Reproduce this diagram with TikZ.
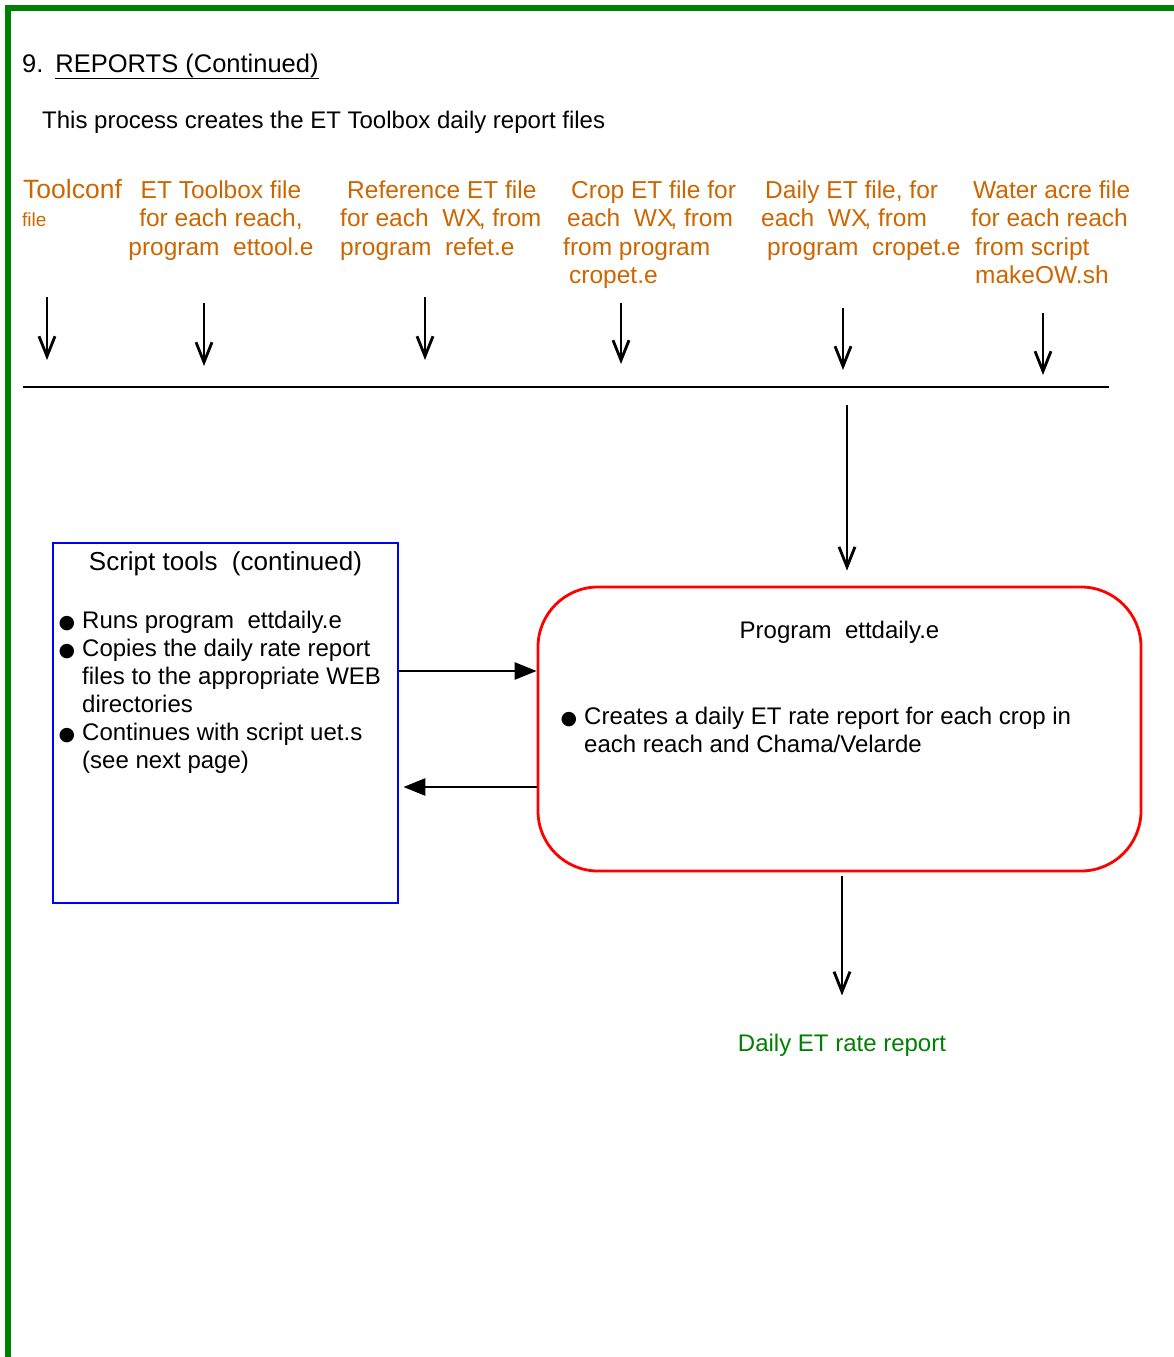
\documentclass[tikz,border=0pt]{standalone}
\usepackage{fontspec}
\setmainfont{Liberation Sans}
\newfontfamily\dotfont{DejaVu Sans}
\usepackage{xcolor}
\usetikzlibrary{arrows.meta,positioning,calc}

\definecolor{filebrown}{RGB}{204,102,0}
\definecolor{pagegreen}{RGB}{0,128,0}

% bullet hung to the left of a line
\newcommand{\bul}{\llap{{\dotfont\fontsize{19}{19}\selectfont ●}\hspace{7pt}}}

\begin{document}
\begin{tikzpicture}[x=1pt, y=-1pt,
    every node/.style={inner sep=0pt, font=\fontsize{24}{28}\selectfont},
    filetxt/.style={text=filebrown, align=left, anchor=base west,
                    font=\fontsize{24.5}{28.5}\selectfont},
    scriptbox/.style={draw=blue, line width=2.8pt, minimum width=345pt,
                      minimum height=360pt},
    progbox/.style={draw=red, line width=2.8pt, rounded corners=60pt,
                    minimum width=603pt, minimum height=284pt},
    feed/.style={-{Straight Barb[length=20pt,width=16pt]}, line width=2.8pt},
    fat/.style={-{Triangle[length=22pt,width=17pt]}, line width=2.8pt},
    ]
\useasboundingbox (0,0) rectangle (1174,1357);

% ---- page frame ----
\draw[pagegreen, line width=6pt] (8,1357) -- (8,8) -- (1174,8);

% ---- heading ----
\node[anchor=base west, font=\fontsize{25.5}{28}\selectfont] (title) at (22,72)
     {9.\hspace{12pt}\underline{REPORTS (Continued)}};
\node[anchor=base west] (intro) at (42,128) {This process creates the ET Toolbox daily report files};

% ---- input files (anchored on the baseline of the last line) ----
\node[filetxt, font=\fontsize{26.5}{28.5}\selectfont] (toolconf) at (23,198) {Toolconf};
\node[filetxt, font=\fontsize{19}{20}\selectfont] (toolconfb) at (22,226) {file};
\node[filetxt, align=center, anchor=base] (ettool) at (221,255)
     {ET Toolbox file\\for each reach,\\program\ \ ettool.e};
\node[filetxt] (refet) at (340,255)
     {\hspace*{7pt}Reference ET file\\for each\ \ WX\kern-3pt, from\\program\ \ refet.e};
\node[filetxt] (cropet) at (563,283.5)
     {\hspace*{8pt}Crop ET file for\\\hspace*{4pt}each\ \ WX\kern-3pt, from\\from program\\\hspace*{6pt}cropet.e};
\node[filetxt] (dailyet) at (761,255)
     {\hspace*{4pt}Daily ET file, for\\each\ \ WX\kern-3pt, from\\\hspace*{6pt}program\ \ cropet.e};
\node[filetxt] (wateracre) at (971,283.5)
     {\hspace*{2pt}Water acre file\\for each reach\\\hspace*{4pt}from script\\\hspace*{4pt}makeOW.sh};

% ---- collecting line ----
\coordinate (bus west) at (23,387);
\coordinate (bus east) at (1109,387);
\draw[line width=2.8pt] (bus west) -- (bus east);

\coordinate (in1) at (47,297);
\coordinate (in2) at (204,303);
\coordinate (in3) at (425,297);
\coordinate (in4) at (621,303);
\coordinate (in5) at (843,308);
\coordinate (in6) at (1043,313);
\draw[feed, shorten >=27pt] (in1) -- (in1 |- bus west);
\draw[feed, shorten >=21pt] (in2) -- (in2 |- bus west);
\draw[feed, shorten >=27pt] (in3) -- (in3 |- bus west);
\draw[feed, shorten >=23pt] (in4) -- (in4 |- bus west);
\draw[feed, shorten >=17pt] (in5) -- (in5 |- bus west);
\draw[feed, shorten >=12pt] (in6) -- (in6 |- bus west);

% ---- script box ----
\node[scriptbox] (script) at (225.5,723) {};
\node[anchor=base, font=\fontsize{26}{28}\selectfont] (scripttitle) at ([yshift=-29pt]script.north)
     {Script tools\ \ (continued)};
\node[anchor=base west, align=left] (scriptlist) at (82,768)
     {\bul Runs program\ \ ettdaily.e\\\bul Copies the daily rate report\\files to the appropriate WEB\\directories\\\bul Continues with script uet.s\\(see next page)};

% ---- program box ----
\node[progbox] (prog) at (839.5,729) {};
\node[anchor=base] (progtitle) at ([yshift=-53pt]prog.north) {Program\ \ ettdaily.e};
\node[anchor=base west, align=left] (proglist) at (584,752)
     {\bul Creates a daily ET rate report for each crop in\\each reach and Chama/Velarde};

% ---- output ----
\node[text=pagegreen, anchor=base] (report) at (842,1051) {Daily ET rate report};

% ---- edges ----
\coordinate (drop) at (847,405);
\draw[feed, shorten >=15pt] (drop) -- (drop |- prog.north);
\draw[fat] ([yshift=52pt]script.east) -- ([yshift=52pt]script.east -| prog.west);
\draw[fat, shorten >=4pt] ([yshift=-64pt]script.east -| prog.west) -- ([yshift=-64pt]script.east);
\draw[feed, shorten <=4pt, shorten >=38pt] (prog.south -| report) -- (report.north);
\end{tikzpicture}
\end{document}
